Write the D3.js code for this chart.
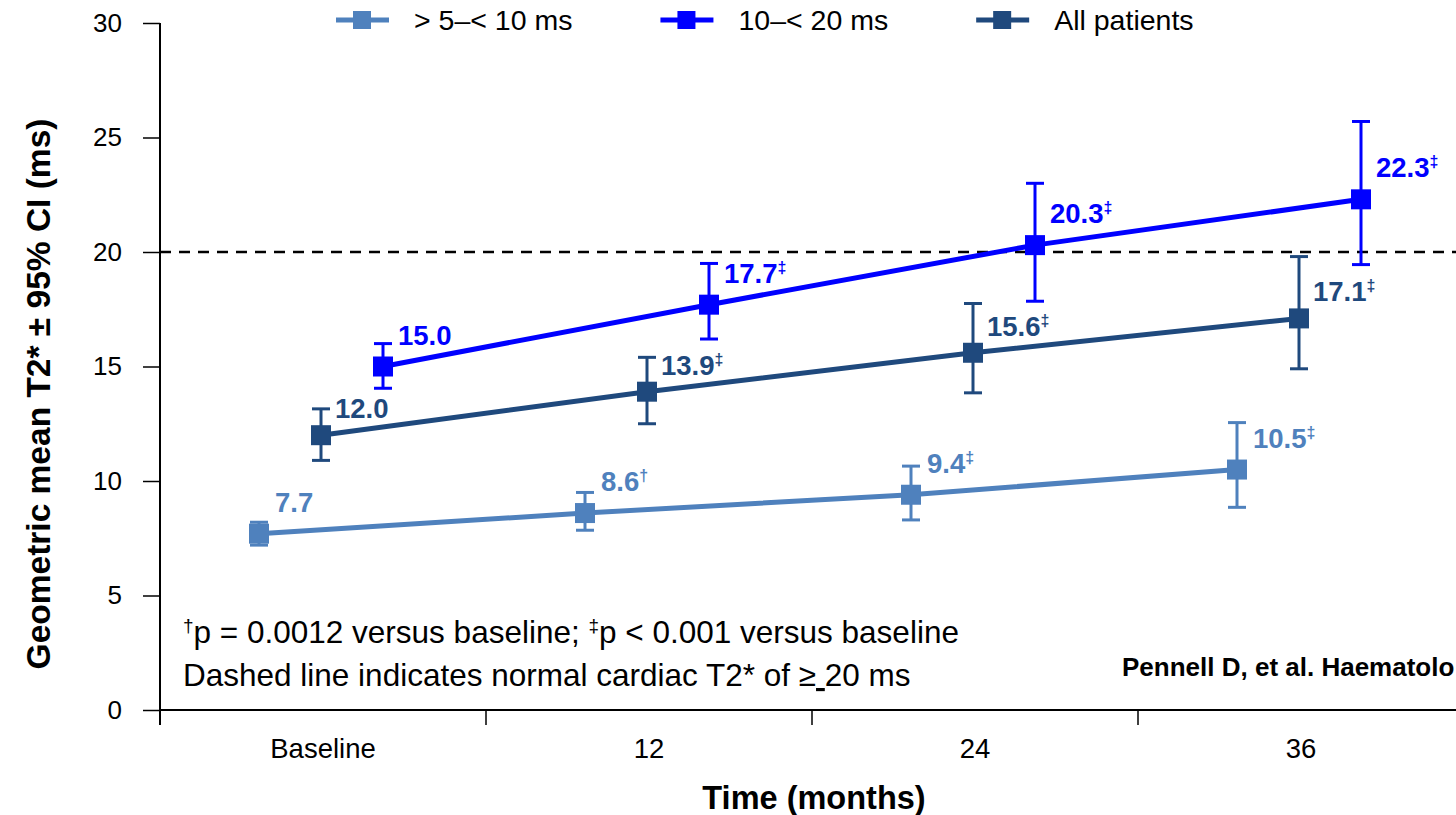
<!DOCTYPE html>
<html>
<head>
<meta charset="utf-8">
<script src="https://cdn.jsdelivr.net/npm/d3@7"></script>
<style>
  body { margin: 0; background: #fff; }
  svg { display: block; }
  text { font-family: "Liberation Sans", Arial, sans-serif; }
</style>
</head>
<body>
<svg id="chart"></svg>
<script>
// time points on the x axis
const timepoints = ['Baseline', '12', '24', '36'];
const yTicks = [0, 5, 10, 15, 20, 25, 30];

// > 5–< 10 ms group
const midMean = [7.7, 8.6, 9.4, 10.5];
const midLow = [7.2, 7.85, 8.3, 8.85];
const midHigh = [8.2, 9.5, 10.65, 12.55];
const midMark = ['', '†', '‡', '‡'];

// 10–< 20 ms group
const highMean = [15.0, 17.7, 20.3, 22.3];
const highLow = [14.05, 16.2, 17.85, 19.45];
const highHigh = [16.0, 19.5, 23.0, 25.7];
const highMark = ['', '‡', '‡', '‡'];

// all patients
const allMean = [12.0, 13.9, 15.6, 17.1];
const allLow = [10.9, 12.5, 13.85, 14.9];
const allHigh = [13.15, 15.4, 17.75, 19.8];
const allMark = ['', '‡', '‡', '‡'];

const normalT2 = 20;

init();

function init() {
    const W = 1456, H = 815;
    const svg = d3.select('#chart').attr('width', W).attr('height', H);

    const y = d3.scaleLinear().domain([0, 30]).range([710, 23]);
    const x = d3.scaleBand().domain(timepoints).range([160, 1464]);
    // horizontal shift of each group inside a time point
    const shift = d3.scalePoint().domain(['mid', 'all', 'high']).range([-64, 60]);

    const series = [
        {key: 'mid', name: '> 5–< 10 ms', color: '#4F81BD', mean: midMean, lo: midLow, hi: midHigh, mark: midMark, dx: 16, dy: -22},
        {key: 'all', name: 'All patients', color: '#1F497D', mean: allMean, lo: allLow, hi: allHigh, mark: allMark, dx: 14, dy: -17},
        {key: 'high', name: '10–< 20 ms', color: '#0000FF', mean: highMean, lo: highLow, hi: highHigh, mark: highMark, dx: 15, dy: -22}
    ];
    const cx = (s, i) => x(timepoints[i]) + x.bandwidth() / 2 + shift(s.key);

    // y axis
    const yAxis = d3.axisLeft(y).tickValues(yTicks).tickSize(17).tickPadding(21);
    const gy = svg.append('g').attr('transform', 'translate(160,0)').call(yAxis);
    gy.select('.domain').attr('d', 'M0,23V725').attr('stroke', '#000').attr('stroke-width', 2);
    gy.selectAll('.tick line').attr('stroke', '#000').attr('stroke-width', 1.5);
    gy.selectAll('.tick text').attr('font-size', 26).attr('fill', '#000');

    // x axis
    const xAxis = d3.axisBottom(x).tickSize(0).tickPadding(28);
    const gx = svg.append('g').attr('transform', 'translate(0,710)').call(xAxis);
    gx.select('.domain').attr('d', 'M160,0H1456').attr('stroke', '#000').attr('stroke-width', 2);
    gx.selectAll('.tick text').attr('font-size', 27.5).attr('fill', '#000');
    timepoints.forEach(t => {
        gx.append('line').attr('x1', x(t)).attr('x2', x(t)).attr('y1', 0).attr('y2', 15)
            .attr('stroke', '#000').attr('stroke-width', 1.5);
    });

    // axis titles
    svg.append('text')
        .attr('transform', 'translate(50,394) rotate(-90)')
        .attr('text-anchor', 'middle')
        .attr('font-weight', 'bold').attr('font-size', 33.5)
        .text('Geometric mean T2* ± 95% CI (ms)');
    svg.append('text')
        .attr('x', 814).attr('y', 809)
        .attr('text-anchor', 'middle')
        .attr('font-weight', 'bold').attr('font-size', 32.5)
        .text('Time (months)');

    // normal T2* reference
    svg.append('line')
        .attr('x1', 160).attr('x2', W)
        .attr('y1', y(normalT2)).attr('y2', y(normalT2))
        .attr('stroke', '#000').attr('stroke-width', 2.5)
        .attr('stroke-dasharray', '11,8');

    const line = d3.line();

    series.forEach(s => {
        const g = svg.append('g').attr('class', 'series-' + s.key);
        const pts = s.mean.map((v, i) => [cx(s, i), y(v)]);

        g.append('path').attr('d', line(pts))
            .attr('fill', 'none').attr('stroke', s.color).attr('stroke-width', 5);

        // 95% CI bars
        s.mean.forEach((v, i) => {
            const px = cx(s, i);
            g.append('line').attr('x1', px).attr('x2', px)
                .attr('y1', y(s.lo[i])).attr('y2', y(s.hi[i]))
                .attr('stroke', s.color).attr('stroke-width', 3);
            [s.lo[i], s.hi[i]].forEach(e => {
                g.append('line').attr('x1', px - 9).attr('x2', px + 9)
                    .attr('y1', y(e)).attr('y2', y(e))
                    .attr('stroke', s.color).attr('stroke-width', 3);
            });
            g.append('rect').attr('x', px - 10).attr('y', y(v) - 10)
                .attr('width', 20).attr('height', 20).attr('fill', s.color);

            const lbl = g.append('text')
                .attr('x', px + s.dx).attr('y', y(v) + s.dy)
                .attr('fill', s.color).attr('font-weight', 'bold').attr('font-size', 27.5)
                .text(v.toFixed(1));
            if (s.mark[i]) {
                lbl.append('tspan').attr('dy', -10).attr('font-size', 16).text(s.mark[i]);
            }
        });
    });

    // legend
    const legendOrder = ['mid', 'high', 'all'];
    let lx = 336;
    legendOrder.forEach(k => {
        const s = series.find(d => d.key === k);
        const g = svg.append('g').attr('transform', 'translate(' + lx + ',20)');
        g.append('line').attr('x1', 0).attr('x2', 53).attr('y1', 0).attr('y2', 0)
            .attr('stroke', s.color).attr('stroke-width', 5);
        g.append('rect').attr('x', 17).attr('y', -9).attr('width', 18).attr('height', 18).attr('fill', s.color);
        const t = g.append('text').attr('x', 78).attr('y', 10)
            .attr('font-size', 28.5).attr('fill', '#000').text(s.name);
        lx += 78 + t.node().getComputedTextLength() + 88;
    });

    // footnotes
    const f1 = svg.append('text').attr('x', 183).attr('y', 643).attr('font-size', 31.5).attr('fill', '#000');
    f1.append('tspan').attr('font-size', 19).attr('dy', -11).text('†');
    f1.append('tspan').attr('dy', 11).text('p = 0.0012 versus baseline; ');
    f1.append('tspan').attr('font-size', 19).attr('dy', -11).text('‡');
    f1.append('tspan').attr('dy', 11).text('p < 0.001 versus baseline');

    const f2 = svg.append('text').attr('x', 183).attr('y', 686).attr('font-size', 31.5).attr('fill', '#000');
    f2.append('tspan').text('Dashed line indicates normal cardiac T2* of ≥');
    f2.append('tspan').attr('text-decoration', 'underline').text('\u00a0');
    f2.append('tspan').text('20 ms');

    svg.append('text').attr('x', 1122).attr('y', 676)
        .attr('font-weight', 'bold').attr('font-size', 26).attr('fill', '#000')
        .text('Pennell D, et al. Haematolo');
}
</script>
</body>
</html>
